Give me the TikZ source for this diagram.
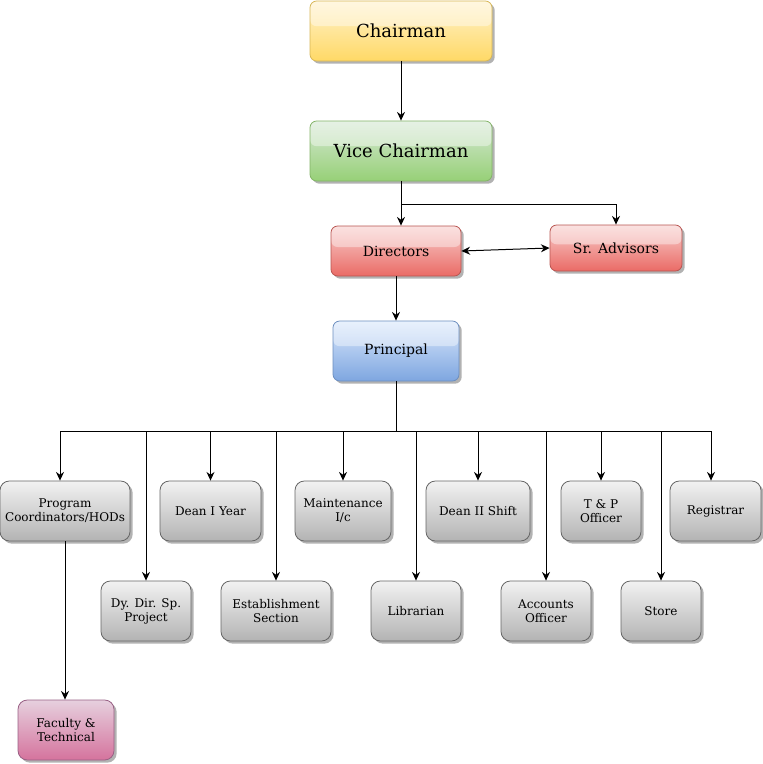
\documentclass[tikz,border=0pt]{standalone}
\usepackage{fontspec}
\setmainfont{DejaVu Serif}
\usetikzlibrary{arrows.meta,shadows,calc}
\definecolor{yT}{HTML}{FFF2CC}\definecolor{yB}{HTML}{FFD966}\definecolor{yS}{HTML}{D6B656}
\definecolor{gT}{HTML}{D5E8D4}\definecolor{gB}{HTML}{97D077}\definecolor{gS}{HTML}{82B366}
\definecolor{rT}{HTML}{F8CECC}\definecolor{rB}{HTML}{EA6B66}\definecolor{rS}{HTML}{B85450}
\definecolor{bT}{HTML}{DAE8FC}\definecolor{bB}{HTML}{7EA6E0}\definecolor{bS}{HTML}{6C8EBF}
\definecolor{kT}{HTML}{F2F2F2}\definecolor{kB}{HTML}{B3B3B3}\definecolor{kS}{HTML}{666666}
\definecolor{pT}{HTML}{E6D0DE}\definecolor{pB}{HTML}{D5739D}\definecolor{pS}{HTML}{996185}
\tikzset{
  sz/.style 2 args={minimum width=#1*0.75pt, minimum height=#2*0.75pt},
  box/.style={rounded corners=5pt, draw, line width=0.6pt, align=center, inner sep=1pt,
    font=\fontsize{9}{10.5}\selectfont,
    drop shadow={shadow xshift=2pt,shadow yshift=-2pt,opacity=0.3,fill=black}},
  glass/.style={path picture={\fill[white,opacity=0.4] (path picture bounding box.north west) rectangle
      ($(path picture bounding box.north east)!0.42!(path picture bounding box.south east)$);}},
  ybox/.style={box, glass, top color=yT, bottom color=yB, draw=yS, font=\fontsize{13.5}{16}\selectfont},
  gbox/.style={box, glass, top color=gT, bottom color=gB, draw=gS, font=\fontsize{13.5}{16}\selectfont},
  rbox/.style={box, glass, top color=rT, bottom color=rB, draw=rS, font=\fontsize{10.5}{12.5}\selectfont},
  bbox/.style={box, glass, top color=bT, bottom color=bB, draw=bS, font=\fontsize{10.5}{12.5}\selectfont},
  kbox/.style={box, rounded corners=7pt, top color=kT, bottom color=kB, draw=kS},
  pbox/.style={box, rounded corners=7pt, top color=pT, bottom color=pB, draw=pS},
  conn/.style={line width=0.75pt, draw=black},
  arr/.style={conn, -{Stealth[length=6.5pt,width=6pt]}},
  arrb/.style={conn, {Stealth[length=6.5pt,width=6pt]}-{Stealth[length=6.5pt,width=6pt]}},
}
\begin{document}
\begin{tikzpicture}[x=0.75pt,y=-0.75pt]
\useasboundingbox (0,0) rectangle (763,764);
\node[ybox, sz={182}{60}] (chair) at (401,31) {Chairman};
\node[gbox, sz={182}{60}] (vice) at (401,151) {Vice Chairman};
\node[rbox, sz={130}{50}] (dir) at (396,251) {Directors};
\node[rbox, sz={132}{46}] (adv) at (616,248) {Sr. Advisors};
\node[bbox, sz={126}{60}] (prin) at (396,351) {Principal};
\node[kbox, sz={130}{60}] (prog) at (65,511) {Program\\Coordinators/HODs};
\node[kbox, sz={101}{60}] (dean1) at (210.5,511) {Dean I Year};
\node[kbox, sz={96}{60}] (maint) at (343,511) {Maintenance\\I/c};
\node[kbox, sz={104}{60}] (dean2) at (478,511) {Dean II Shift};
\node[kbox, sz={80}{60}] (tp) at (601,511) {T \& P\\Officer};
\node[kbox, sz={91}{60}] (reg) at (715.5,511) {Registrar};
\node[kbox, sz={90}{60}] (dydir) at (146,611) {Dy. Dir. Sp.\\Project};
\node[kbox, sz={110}{60}] (estab) at (276,611) {Establishment\\Section};
\node[kbox, sz={90}{60}] (lib) at (416,611) {Librarian};
\node[kbox, sz={90}{60}] (acc) at (546,611) {Accounts\\Officer};
\node[kbox, sz={80}{60}] (store) at (661,611) {Store};
\node[pbox, sz={96}{60}] (fac) at (66,730) {Faculty \&\\Technical};
% connectors
\coordinate (vb) at (401,204);
\coordinate (bus) at (396,431);
\coordinate (busL) at (60,431);
\coordinate (busR) at (711,431);
\draw[arr] (chair) -- (vice);
\draw[conn] (vice.south) -- (vb);
\draw[arr] (vb) -- (vb |- dir.north);
\draw[arr] (vb) -| (adv.north);
\draw[arrb] (dir.east) -- (adv.west);
\draw[arr] (dir.south) -- (prin.north);
\draw[conn] (prin.south) -- (bus);
\draw[conn] (busL) -- (busR);
\draw[arr] (busL) -- (busL |- prog.north);
\draw[arr] (busR) -- (busR |- reg.north);
\foreach \n in {dean1,maint,dean2,tp,dydir,estab,lib,acc,store}
  \draw[arr] (\n.north |- bus) -- (\n.north);
\draw[arr] (prog.south) -- (prog.south |- fac.north);
\end{tikzpicture}
\end{document}
